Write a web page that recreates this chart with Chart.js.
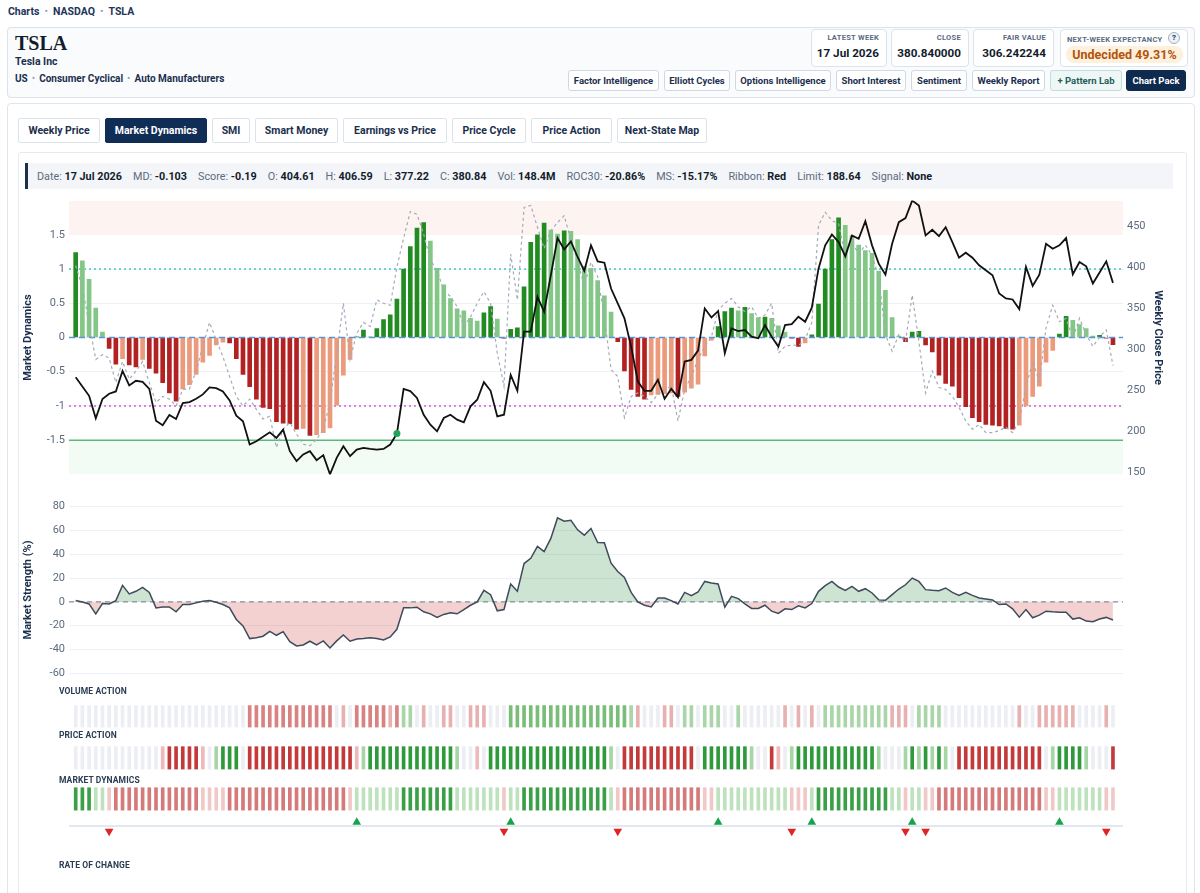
<!DOCTYPE html>
<html><head><meta charset="utf-8">
<script src="https://cdn.jsdelivr.net/npm/chart.js@4.4.0/dist/chart.umd.min.js"></script>
<style>
*{box-sizing:border-box;margin:0;padding:0}
body{width:1200px;height:893px;overflow:hidden;background:#fff;font-family:Roboto,'Noto Sans',sans-serif;color:#1b2f4e;position:relative}
.a{position:absolute;white-space:nowrap}
.crumb{left:8px;top:5px;font-size:10.5px;font-weight:700;color:#1d3557}
.crumb .d{color:#9aa6b6;margin:0 5px;font-weight:400}
.card{left:7px;top:27px;width:1188px;height:71px;border:1px solid #dbe2ea;border-radius:4px;background:#f9fbfd}
.tk{left:15px;top:33px;font-family:'Liberation Serif','DejaVu Serif',serif;font-weight:700;font-size:20px;color:#111c2d;line-height:20px}
.nm{left:15px;top:55px;font-size:10.5px;font-weight:700;color:#1b2f4e}
.sec{left:15px;top:73px;font-size:10px;font-weight:700;color:#1b2f4e}
.sec .d{color:#9aa6b6;margin:0 4px;font-weight:400}
.st{top:29px;height:38px;background:#fff;border:1px solid #dde3ea;border-radius:4px}
.st .l{position:absolute;right:7px;top:3px;font-size:7.5px;font-weight:700;color:#5b6b80;letter-spacing:.3px}
.st .v{position:absolute;right:7px;top:16px;font-size:11.7px;font-weight:700;color:#111c2d}
.btn{top:70px;height:21px;border:1px solid #cfd8e3;border-radius:3px;background:#fff;font-size:9.5px;font-weight:700;color:#1b2f4e;text-align:center;line-height:19px}
.panel{left:7px;top:103px;width:1188px;height:800px;border:1px solid #e1e6ed;border-radius:4px}
.tab{top:118px;height:25px;border:1px solid #dde3ea;border-radius:2px;background:#fff;font-size:10.5px;font-weight:700;color:#1b2f4e;text-align:center;line-height:23px}
.tab.on{background:#0f2d55;color:#fff;border-color:#0f2d55}
.inner{left:18px;top:152px;width:1169px;height:760px;border:1px solid #e6eaf0;border-radius:3px}
.info{left:25px;top:163px;width:1148px;height:26px;background:#f3f5f8;border-left:3px solid #1b2f4e;display:flex;align-items:center;padding-left:9px;gap:11px;font-size:10.8px;color:#5b6b80}
.info b{color:#111c2d;font-weight:700}
.lab{left:59px;font-size:8.5px;font-weight:700;color:#2a3b52;letter-spacing:.1px}
canvas{position:absolute}
</style></head><body>
<div class="a crumb">Charts<span class="d">•</span>NASDAQ<span class="d">•</span>TSLA</div>
<div class="a card"></div>
<div class="a tk">TSLA</div>
<div class="a nm">Tesla Inc</div>
<div class="a sec">US<span class="d">•</span>Consumer Cyclical<span class="d">•</span>Auto Manufacturers</div>
<div class="a st" style="left:811px;width:76px"><div class="l">LATEST WEEK</div><div class="v">17 Jul 2026</div></div>
<div class="a st" style="left:891px;width:78px"><div class="l">CLOSE</div><div class="v">380.840000</div></div>
<div class="a st" style="left:973px;width:81px"><div class="l">FAIR VALUE</div><div class="v">306.242244</div></div>
<div class="a st" style="left:1060px;width:128px"><div class="l" style="left:6px;right:auto;top:5px">NEXT-WEEK EXPECTANCY</div>
<div style="position:absolute;right:7px;top:2px;width:12px;height:12px;border:1px solid #9fb0c4;border-radius:50%;font-size:8px;font-weight:700;text-align:center;line-height:10px;background:#eef2f7">?</div>
<div style="position:absolute;left:5px;top:16px;width:117px;height:17px;background:#fdf0dd;border-radius:8px;font-size:12.5px;font-weight:700;color:#b4530a;text-align:center;line-height:17px">Undecided 49.31%</div></div>
<div class="a btn" style="left:568px;width:91px">Factor Intelligence</div>
<div class="a btn" style="left:664px;width:66px">Elliott Cycles</div>
<div class="a btn" style="left:735px;width:96px">Options Intelligence</div>
<div class="a btn" style="left:836px;width:70px">Short Interest</div>
<div class="a btn" style="left:911px;width:56px">Sentiment</div>
<div class="a btn" style="left:972px;width:73px">Weekly Report</div>
<div class="a btn" style="left:1050px;width:72px;background:#eef7f6;border-color:#bfe0da;color:#24605a">+ Pattern Lab</div>
<div class="a btn" style="left:1126px;width:60px;background:#0f2a4f;border-color:#0f2a4f;color:#fff">Chart Pack</div>
<div class="a panel"></div>
<div class="a tab" style="left:18px;width:82px">Weekly Price</div>
<div class="a tab on" style="left:105px;width:102px">Market Dynamics</div>
<div class="a tab" style="left:212px;width:38px">SMI</div>
<div class="a tab" style="left:255px;width:83px">Smart Money</div>
<div class="a tab" style="left:343px;width:104px">Earnings vs Price</div>
<div class="a tab" style="left:452px;width:74px">Price Cycle</div>
<div class="a tab" style="left:531px;width:81px">Price Action</div>
<div class="a tab" style="left:617px;width:90px">Next-State Map</div>
<div class="a inner"></div>
<div class="a info">
<span>Date: <b>17 Jul 2026</b></span><span>MD: <b>-0.103</b></span><span>Score: <b>-0.19</b></span><span>O: <b>404.61</b></span><span>H: <b>406.59</b></span><span>L: <b>377.22</b></span><span>C: <b>380.84</b></span><span>Vol: <b>148.4M</b></span><span>ROC30: <b>-20.86%</b></span><span>MS: <b>-15.17%</b></span><span>Ribbon: <b>Red</b></span><span>Limit: <b>188.64</b></span><span>Signal: <b>None</b></span>
</div>
<canvas id="c1" width="1150" height="295" style="left:18px;top:190px"></canvas>
<canvas id="c2" width="1150" height="188" style="left:18px;top:496px"></canvas>
<canvas id="c3" width="1150" height="150" style="left:18px;top:695px"></canvas>
<div class="a lab" style="top:686px">VOLUME ACTION</div>
<div class="a lab" style="top:730px">PRICE ACTION</div>
<div class="a lab" style="top:775px">MARKET DYNAMICS</div>
<div class="a lab" style="top:860px">RATE OF CHANGE</div>
<script>
// ---------- data (weekly, oldest -> latest 17 Jul 2026) ----------
const md = [
1.24,1.12,0.85,0.43,0.08,-0.16,-0.39,-0.31,-0.40,-0.43,
-0.32,-0.45,-0.52,-0.66,-0.81,-0.93,-0.75,-0.69,-0.54,-0.36,
-0.26,-0.11,-0.07,-0.08,-0.31,-0.54,-0.72,-0.90,-1.02,-1.04,
-1.23,-1.25,-1.26,-1.34,-1.33,-1.43,-1.42,-1.39,-1.32,-0.99,
-0.55,-0.32,0.01,0.11,0.01,0.13,0.26,0.33,0.56,1.00,
1.33,1.60,1.68,1.41,1.01,0.77,0.57,0.42,0.39,0.28,
0.24,0.36,0.45,0.27,-0.01,0.12,0.14,0.74,1.39,1.50,
1.67,1.57,1.51,1.56,1.55,1.43,1.04,1.01,0.83,0.61,
0.37,-0.06,-0.49,-0.76,-0.86,-0.90,-0.84,-0.83,-0.82,-0.81,
-0.86,-0.80,-0.74,-0.68,-0.27,-0.04,0.16,0.38,0.43,0.39,
0.44,0.35,0.29,0.30,0.28,0.17,0.08,-0.01,-0.13,-0.08,
0.04,0.49,1.00,1.43,1.75,1.64,1.49,1.35,1.27,1.23,
0.97,0.69,0.29,0.02,-0.06,0.08,0.09,-0.11,-0.21,-0.55,
-0.67,-0.71,-0.88,-1.01,-1.17,-1.23,-1.27,-1.28,-1.29,-1.33,
-1.34,-1.28,-1.00,-0.86,-0.71,-0.36,-0.19,0.05,0.31,0.25,
0.19,0.13,0.02,0.03,-0.01,-0.103];
const mdFast = [
1.05,0.74,0.2,-0.32,-0.25,-0.30,-0.66,-0.35,-0.61,-0.49,
-0.35,-0.66,-0.95,-0.86,-0.90,-1.0,-0.76,-0.75,-0.49,-0.13,
0.22,-0.03,-0.28,-0.57,-0.86,-1.0,-0.9,-1.05,-1.19,-1.15,
-1.61,-1.34,-1.24,-1.41,-1.56,-1.58,-1.49,-1.34,-0.95,-0.23,
0.50,-0.32,0.06,0.22,0.16,0.55,0.50,0.47,1.03,1.45,
1.84,1.8,1.51,1.13,0.98,0.69,0.60,0.45,0.16,0.30,
0.50,0.67,0.50,-0.23,-0.71,1.22,0.55,1.90,1.93,1.61,
1.30,1.56,1.68,1.78,1.42,1.10,0.76,1.10,0.89,0.30,
-0.47,-0.57,-1.17,-0.86,-0.81,-0.86,-0.95,-0.83,-0.76,-0.71,
-1.22,-0.76,-0.57,-0.32,-0.13,0.01,0.40,0.50,0.57,0.45,
0.38,0.45,0.28,0.33,0.50,-0.23,-0.13,-0.11,-0.12,-0.03,
0.22,1.64,1.83,1.71,1.66,1.20,1.39,1.22,1.35,1.20,
0.88,0.04,-0.20,0.04,-0.06,0.62,-0.06,-0.81,-0.49,-0.73,
-0.76,-0.86,-1.02,-1.22,-1.34,-1.27,-1.39,-1.39,-1.36,-1.31,
-1.39,-1.22,-0.73,-0.35,-0.64,0.14,0.47,0.23,0.28,-0.01,
0.28,0.04,-0.13,0.01,0.11,-0.41];
const price = [
265.8,254.5,243.1,215.6,239.1,245.6,248.4,273.5,255.7,261.4,
260.1,251.6,212.8,207.1,219.7,214.8,234.2,235.4,239.5,244.8,
253.3,252.5,248.4,237.5,218.8,212.0,183.6,187.7,193.0,198.6,
191.7,201.8,175.5,163.4,171.5,175.5,164.6,170.7,147.2,167.4,
181.6,169.4,177.5,179.6,178.3,177.5,178.3,183.6,197.0,251.4,
248.8,240.5,220.0,207.9,199.8,216.0,220.0,214.0,210.7,230.2,
238.3,259.7,249.2,218.0,220.0,268.6,249.2,321.3,321.3,363.8,
345.6,390.1,435.5,421.7,431.4,412.4,395.4,426.6,407.1,405.5,
373.9,355.7,337.5,303.1,260.5,249.2,249.2,262.6,239.5,251.6,
241.5,284.8,286.9,298.2,349.6,338.7,346.3,295.0,325.3,322.1,
323.3,315.2,313.2,329.4,315.2,303.0,329.4,330.4,339.5,333.4,
350.6,398.2,426.6,439.9,430.6,413.2,438.7,434.7,456.1,426.6,
404.3,390.9,428.6,454.9,459.8,481.2,475.1,438.7,445.6,437.9,
448.8,430.6,411.6,417.7,411.6,402.3,396.2,390.1,367.9,361.8,
360.6,348.8,400.2,377.2,390.9,428.6,422.5,426.6,435.5,391.3,
406.3,401.0,380.0,393.4,407.1,380.84];
const strength = [
1.1,0,-1.7,-10,-1.4,-1.7,1.1,13.9,6.7,8.9,
12.2,8,-5,-4.2,-4.2,-8.3,-2.2,-2.2,-0.8,0.6,
1.1,-0.3,-2.2,-5,-14.7,-20.2,-30.8,-30,-28.8,-24.7,
-28,-25,-33.3,-36.9,-36.1,-33,-36.1,-32.7,-38.6,-32.7,
-27.7,-33,-31.1,-30.8,-30,-30.8,-31.9,-29.4,-23,-5,
-5,-4.4,-8.3,-10,-13,-10.5,-9.2,-10,-6.4,-2.8,
0,9.7,6.1,-7.5,-6.4,15,8.9,32.2,36.6,46.6,
42.2,53.3,70.5,67.7,68.5,60.5,56,61.6,49.9,49.7,
32.5,25.5,20.5,8,0,-2.8,-4.2,3.3,3.3,1.1,
-1.7,8,5.3,8.3,17.2,15.8,15,-4.4,4.7,2.8,
-1.7,-5.5,-5.5,-2.8,-7.8,-9.7,-5.8,-6.4,-3.3,-5,
-1.4,8.9,13.6,17.2,12.5,9.7,13,8.9,11.1,7.5,
1.7,1.4,6.1,10.8,14.4,20,17.2,10.3,9.7,9.4,
11.7,8,5.5,8,5.5,3.3,2.5,1.7,-2.2,-1.7,
-5.8,-12.8,-6.4,-13.3,-11.1,-7.8,-8.3,-8.6,-8.6,-14.4,
-13.3,-16.1,-16.6,-14.4,-13,-15.17];
// strip states: -2 strong bearish, -1 mild bearish, 0 neutral, 1 mild bullish, 2 strong bullish
const volAction = [
0,0,0,0,0,0,0,0,0,0,0,0,0,0,0,0,0,0,0,0,0,0,0,0,0,0,
-2,-2,-2,-2,-2,-2,-2,-2,-2,-2,-2,-2,-2,
0,-1,0,
-2,-2,-2,-2,-2,-1,-2,
1,1,0,-1,0,0,-1,-1,0,0,-1,-1,-1,0,0,0,
2,2,2,2,2,2,2,2,2,2,2,2,2,2,2,2,2,2,
1,-1,0,0,0,-1,-1,0,1,1,0,1,1,1,0,0,1,
0,0,0,0,0,0,-1,0,-1,0,-1,0,
1,1,1,1,1,1,1,1,1,1,
-1,-1,-1,0,1,1,1,1,
0,0,0,0,0,0,0,0,0,0,0,
-1,0,0,-1,-1,-1,-1,-1,-1,0,0,0,0,-1,0];
const priceAction = [
0,0,0,0,0,0,0,0,0,0,0,0,0,
-1,-2,-2,-2,-2,-2,-1,0,
1,2,2,2,0,
-2,-2,-2,-2,-2,-2,-2,-2,-2,-2,-2,-2,-2,-2,-2,-2,
-1,1,
2,2,2,2,2,2,2,2,2,2,2,2,2,
1,0,0,-1,0,
2,2,2,2,2,2,2,2,2,2,2,2,2,2,2,2,2,2,
1,0,
-2,-2,-2,-2,-2,-2,-2,-2,-2,-2,-2,
0,
2,2,2,2,2,2,2,
1,0,0,-2,-1,0,1,
2,2,2,2,2,2,2,2,2,2,2,2,
1,0,0,0,1,2,1,2,1,2,1,0,
-2,-2,-2,-2,-2,-2,-2,-2,-2,-2,-2,-2,-2,
0,1,2,2,2,2,1,0,0,0,-2];
const mdAction = [
2,2,2,1,1,-1,
-2,-2,-2,-2,-2,-2,-2,-2,-2,-2,-2,-2,-2,
-1,-1,-1,-1,
-2,-2,-2,-2,-2,-2,-2,-2,-2,-2,-2,-2,-2,-2,-2,-2,-2,-2,
-1,1,1,1,1,1,1,1,
2,2,2,2,2,2,2,2,
1,1,1,1,1,1,1,-1,1,1,
2,2,2,2,2,2,2,2,2,2,2,2,2,
1,-1,
-2,-2,-2,-2,-2,-2,-2,-2,-2,-2,-2,-2,
-1,-1,
1,1,1,1,1,1,1,1,1,1,1,
-1,-1,-1,1,
2,2,2,2,2,2,2,2,2,2,2,
1,1,-1,1,1,-1,-1,
-2,-2,-2,-2,-2,-2,-2,-2,-2,-2,-2,-2,-2,-2,-2,-2,
-1,-1,1,1,1,1,1,1,1,-1,-1];
const signalIdx = [48];
const mdTicks = [-1.5,-1,-0.5,0,0.5,1,1.5];
const mdRange = [-2, 2];
const mdLevels = {overbought:1.5, upper:1, zero:0, lower:-1, oversold:-1.5};
const priceTicks = [150,200,250,300,350,400,450];
const strengthTicks = [-60,-40,-20,0,20,40,60,80];

// ---------- charts ----------
Chart.defaults.font.family = "Roboto, 'Noto Sans', sans-serif";
Chart.defaults.animation = false;
Chart.defaults.plugins.legend.display = false;
Chart.defaults.plugins.tooltip.enabled = false;
const N = md.length;
const xspan = [-1, N + 0.5];
const xScale = {type:'linear', min:xspan[0], max:xspan[1], offset:false, display:false};
const tickStyle = {color:'#5d6b7e', font:{size:11}, padding:4, callback:v=>String(v)};
const titleStyle = (t) => ({display:true, text:t, color:'#1b2f4e', font:{size:11, weight:'bold'}, padding:{top:4,bottom:4}});
const hline = (y, o, axis) => Object.assign({type:'line', data:[{x:xspan[0],y},{x:xspan[1],y}], pointRadius:0, yAxisID:axis||'y', fill:false, tension:0}, o);

const barColors = md.map((v,i) => {
  const up = i === 0 || v >= md[i-1];
  return v >= 0 ? (up ? '#228b22' : '#82c785') : (up ? '#ec9a7c' : '#b22222');
});

new Chart(document.getElementById('c1'), {
  type:'bar',
  data:{datasets:[
    hline(mdRange[1], {fill:{value:mdLevels.overbought}, backgroundColor:'#fdf3f1', borderColor:'rgba(0,0,0,0)', borderWidth:0, order:40}),
    hline(mdRange[0], {fill:{value:mdLevels.oversold}, backgroundColor:'#f2fbf4', borderColor:'rgba(0,0,0,0)', borderWidth:0, order:40}),
    hline(mdLevels.upper, {borderColor:'#3fc6c6', borderWidth:1.5, borderDash:[2,3], order:20}),
    hline(mdLevels.lower, {borderColor:'#d65ad6', borderWidth:1.5, borderDash:[2,3], order:20}),
    hline(mdLevels.oversold, {borderColor:'#5cb87a', borderWidth:1.5, order:20}),
    {type:'bar', data:md.map((v,i)=>({x:i,y:v})), backgroundColor:barColors, barThickness:4, order:10},
    hline(mdLevels.zero, {borderColor:'#5b93d6', borderWidth:1.5, borderDash:[6,4], order:8}),
    {type:'line', data:mdFast.map((v,i)=>({x:i,y:v})), borderColor:'#a3abb9', borderWidth:1.2, borderDash:[3,3], pointRadius:0, tension:0, order:5},
    {type:'line', yAxisID:'y2', data:price.map((v,i)=>({x:i,y:v})), borderColor:'#111111', borderWidth:1.8, tension:0,
      pointRadius:price.map((_,i)=>signalIdx.includes(i)?3.5:0), pointBackgroundColor:'#1fa65c', pointBorderWidth:0, order:1}
  ]},
  options:{
    responsive:false, maintainAspectRatio:false,
    layout:{padding:{left:0,right:0,top:8,bottom:10}},
    plugins:{filler:{drawTime:'beforeDatasetsDraw'}},
    scales:{
      x:xScale,
      y:{position:'left', min:mdRange[0], max:mdRange[1],
        afterBuildTicks:s=>{s.ticks = mdTicks.map(v=>({value:v}));},
        afterFit:s=>{s.width = 51;},
        grid:{color:'#edf0f5', drawTicks:false}, border:{display:false},
        ticks:tickStyle, title:titleStyle('Market Dynamics')},
      y2:{position:'right', min:Math.min(...price), max:Math.max(...price),
        afterBuildTicks:s=>{s.ticks = priceTicks.map(v=>({value:v}));},
        afterFit:s=>{s.width = 45;},
        grid:{display:false, drawTicks:false}, border:{display:false},
        ticks:tickStyle, title:titleStyle('Weekly Close Price')}
    }
  }
});

new Chart(document.getElementById('c2'), {
  type:'line',
  data:{datasets:[
    {data:strength.map((v,i)=>({x:i,y:v})), borderColor:'#3f4a5b', borderWidth:1.5, pointRadius:0, tension:0,
      fill:{target:'origin', above:'rgba(60,150,80,0.26)', below:'rgba(215,90,90,0.28)'}, order:1},
    hline(0, {borderColor:'#8a9099', borderWidth:1.2, borderDash:[5,4], order:2})
  ]},
  options:{
    responsive:false, maintainAspectRatio:false,
    layout:{padding:{left:0,right:45,top:10,bottom:10}},
    plugins:{filler:{drawTime:'beforeDatasetsDraw'}},
    scales:{
      x:xScale,
      y:{min:-60, max:80,
        afterBuildTicks:s=>{s.ticks = strengthTicks.map(v=>({value:v}));},
        afterFit:s=>{s.width = 51;},
        grid:{color:'#edf0f5', drawTicks:false}, border:{display:false},
        ticks:tickStyle, title:titleStyle('Market Strength (%)')}
    }
  }
});

const pal = {
  vol:{'-2':'#d98282','-1':'#e8b1b1','0':'#eceef3','1':'#a9d5a9','2':'#79bd79'},
  price:{'-2':'#c43a3a','-1':'#efb9b9','0':'#eceef3','1':'#a6d5a6','2':'#2f9a3c'},
  md:{'-2':'#d57a7a','-1':'#f1c8c8','0':'#eceef3','1':'#bde2bd','2':'#3a9f47'}
};
const rows = [
  {levels:volAction, p:pal.vol, y:[6,29]},
  {levels:priceAction, p:pal.price, y:[50,74]},
  {levels:mdAction, p:pal.md, y:[94,118]}
];
const upIdx = [], downIdx = [];
md.forEach((v,i)=>{ if(!i) return; if(v>0 && md[i-1]<=0) upIdx.push(i); if(v<0 && md[i-1]>=0) downIdx.push(i); });

new Chart(document.getElementById('c3'), {
  type:'bar',
  data:{datasets:[
    ...rows.map(r=>({type:'bar', data:r.levels.map((l,i)=>({x:i,y:r.y})), backgroundColor:r.levels.map(l=>r.p[String(l)]), barThickness:3, grouped:false, borderWidth:0})),
    hline(135, {borderColor:'#d8e0ea', borderWidth:1.5}),
    {type:'scatter', data:upIdx.map(i=>({x:i,y:131})), pointStyle:'triangle', pointRadius:5, backgroundColor:'#16a34a', pointBorderWidth:0},
    {type:'scatter', data:downIdx.map(i=>({x:i,y:140.5})), pointStyle:'triangle', rotation:180, pointRadius:5, backgroundColor:'#e02424', pointBorderWidth:0}
  ]},
  options:{
    responsive:false, maintainAspectRatio:false,
    layout:{padding:{left:51,right:45,top:0,bottom:0}},
    scales:{x:xScale, y:{min:0, max:150, reverse:true, display:false}}
  }
});
</script>
</body></html>
